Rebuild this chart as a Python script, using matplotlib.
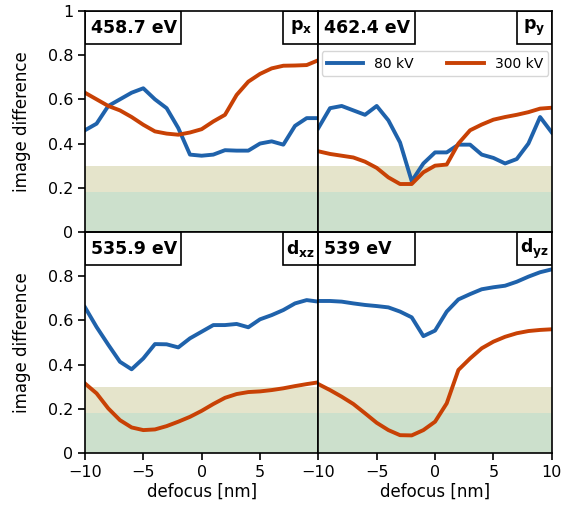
import numpy as np
import matplotlib
matplotlib.use('Agg')
import matplotlib.pyplot as plt
from matplotlib.patches import Rectangle

# defocus values [nm]
defocus = np.arange(-10, 11)

# image difference, 80 kV and 300 kV, per panel
px_80 = [0.46, 0.49, 0.57, 0.60, 0.63, 0.65, 0.60, 0.56, 0.47, 0.35, 0.345,
         0.35, 0.37, 0.368, 0.368, 0.40, 0.41, 0.395, 0.48, 0.515, 0.515]
px_300 = [0.63, 0.60, 0.57, 0.55, 0.52, 0.485, 0.455, 0.445, 0.44, 0.45, 0.465,
          0.50, 0.53, 0.62, 0.68, 0.715, 0.74, 0.752, 0.753, 0.755, 0.777]
py_80 = [0.47, 0.56, 0.57, 0.55, 0.53, 0.57, 0.505, 0.405, 0.23, 0.31, 0.36,
         0.36, 0.395, 0.395, 0.35, 0.335, 0.31, 0.33, 0.40, 0.52, 0.45]
py_300 = [0.365, 0.353, 0.345, 0.337, 0.318, 0.29, 0.247, 0.217, 0.217, 0.27, 0.30,
          0.305, 0.40, 0.46, 0.486, 0.508, 0.52, 0.53, 0.542, 0.558, 0.562]
dxz_80 = [0.66, 0.57, 0.49, 0.413, 0.379, 0.428, 0.493, 0.492, 0.478, 0.519, 0.549,
          0.579, 0.579, 0.584, 0.569, 0.605, 0.624, 0.647, 0.677, 0.692, 0.685]
dxz_300 = [0.315, 0.27, 0.202, 0.149, 0.116, 0.104, 0.107, 0.122, 0.142, 0.164, 0.191,
           0.222, 0.25, 0.267, 0.276, 0.279, 0.285, 0.293, 0.303, 0.312, 0.32]
dyz_80 = [0.688, 0.688, 0.685, 0.677, 0.67, 0.665, 0.659, 0.64, 0.614, 0.529, 0.554,
          0.64, 0.695, 0.719, 0.741, 0.75, 0.757, 0.775, 0.798, 0.818, 0.831]
dyz_300 = [0.312, 0.285, 0.255, 0.222, 0.18, 0.137, 0.104, 0.081, 0.08, 0.104, 0.142,
           0.225, 0.376, 0.428, 0.474, 0.504, 0.526, 0.542, 0.552, 0.557, 0.56]

energies = ['458.7 eV', '462.4 eV', '535.9 eV', '539 eV']
orbitals = [r'$\mathbf{p_x}$', r'$\mathbf{p_y}$', r'$\mathbf{d_{xz}}$', r'$\mathbf{d_{yz}}$']
data_80 = [px_80, py_80, dxz_80, dyz_80]
data_300 = [px_300, py_300, dxz_300, dyz_300]

blue = '#1f62ab'
orange = '#c84105'

fig, axes = plt.subplots(2, 2, figsize=(5.7, 5.19), dpi=100)
fig.subplots_adjust(left=0.149, right=0.968, top=0.979, bottom=0.127,
                    hspace=0, wspace=0)

for i, ax in enumerate(axes.flat):
    ax.axhspan(0, 0.18, color='#cce0cc', lw=0, zorder=0)
    ax.axhspan(0.18, 0.3, color='#e5e4cb', lw=0, zorder=0)
    ax.plot(defocus, data_80[i], color=blue, lw=2.8, label='80 kV')
    ax.plot(defocus, data_300[i], color=orange, lw=2.8, label='300 kV')
    ax.set_xlim(-10, 10)
    ax.set_ylim(0, 1)

    # fixed-size label boxes in the corners
    ax.add_patch(Rectangle((0, 0.85), 0.412, 0.15, transform=ax.transAxes,
                           facecolor='white', edgecolor='black', lw=1.2, zorder=5))
    ax.text(0.025, 0.922, energies[i], transform=ax.transAxes, fontsize=12.5,
            fontweight='bold', ha='left', va='center', zorder=6)
    ax.add_patch(Rectangle((0.85, 0.85), 0.15, 0.15, transform=ax.transAxes,
                           facecolor='white', edgecolor='black', lw=1.2, zorder=5))
    ax.text(0.925, 0.925, orbitals[i], transform=ax.transAxes, fontsize=12.5,
            ha='center', va='center', zorder=6)

    for s in ax.spines.values():
        s.set_linewidth(1.2)
        s.set_zorder(7)
    ax.tick_params(width=1.2, length=5, labelsize=11.5)

# top row: no x ticks
for ax in axes[0]:
    ax.set_xticks([])
# right column: no y ticks
for ax in axes[:, 1]:
    ax.set_yticks([])

axes[0, 0].set_yticks([0, 0.2, 0.4, 0.6, 0.8, 1])
axes[0, 0].set_yticklabels(['0', '0.2', '0.4', '0.6', '0.8', '1'])
axes[1, 0].set_yticks([0, 0.2, 0.4, 0.6, 0.8])
axes[1, 0].set_yticklabels(['0', '0.2', '0.4', '0.6', '0.8'])

axes[1, 0].set_xticks([-10, -5, 0, 5])
axes[1, 1].set_xticks([-10, -5, 0, 5, 10])

for ax in axes[:, 0]:
    ax.set_ylabel('image difference', fontsize=12, labelpad=12)
for ax in axes[1]:
    ax.set_xlabel('defocus [nm]', fontsize=12, labelpad=2)

axes[0, 1].legend(loc='upper center', bbox_to_anchor=(0.5, 0.85), ncol=2,
                  fontsize=10, handlelength=2.6, columnspacing=2.4,
                  framealpha=0.8)

plt.savefig('out.png', dpi=100)
